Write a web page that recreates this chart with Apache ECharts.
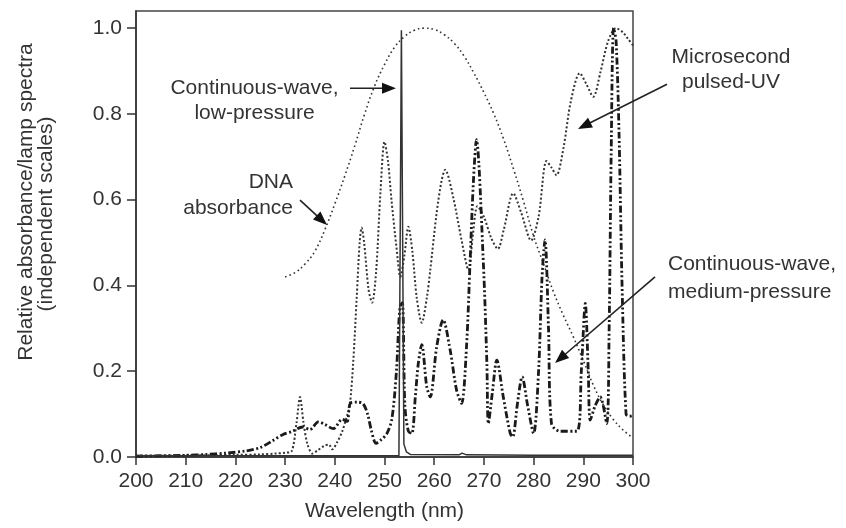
<!DOCTYPE html>
<html><head><meta charset="utf-8">
<script src="https://cdn.jsdelivr.net/npm/echarts@6/dist/echarts.min.js"></script>
<style>html,body{margin:0;padding:0;background:#fff}#c{width:846px;height:528px}</style>
</head><body><div id="c"></div>
<script>
// ---- data (wavelength nm, relative value) ----
const xTicks = [200,210,220,230,240,250,260,270,280,290,300];
const yTicks = [0,0.2,0.4,0.6,0.8,1.0];

const dnaAbsorbance = [
 [230,0.42],[232,0.43],[234,0.45],[236,0.48],[238,0.53],[240,0.59],[242,0.655],[244,0.725],
 [246,0.80],[248,0.865],[250,0.915],[252,0.955],[254,0.98],[256,0.995],[258,1.0],[260,0.997],
 [262,0.985],[264,0.965],[266,0.935],[268,0.895],[270,0.85],[272,0.80],[274,0.74],[276,0.67],
 [278,0.595],[280,0.515],[282,0.45],[284,0.385],[286,0.33],[288,0.28],[290,0.225],[292,0.168],
 [294,0.122],[296,0.088],[298,0.063],[300,0.044]
];

const pulsedUV = [
 [200,0.003],[205,0.003],[210,0.004],[215,0.004],[220,0.005],[225,0.006],[228,0.008],[230,0.01],
 [231.3,0.013],[232.3,0.08],[233,0.14],[233.7,0.08],[234.5,0.03],[235.5,0.008],[236.5,0.015],
 [238,0.027],[238.8,0.029],[239.5,0.018],[240.5,0.035],[241.5,0.06],[242.3,0.09],[243,0.12],
 [243.7,0.22],[244.4,0.37],[245,0.5],[245.4,0.535],[245.9,0.5],[246.8,0.39],[247.5,0.36],
 [248.3,0.43],[249.2,0.62],[250,0.735],[250.7,0.69],[251.4,0.6],[252.4,0.49],[253.2,0.42],
 [254,0.47],[254.8,0.537],[255.6,0.48],[256.5,0.37],[257.5,0.313],[258.5,0.37],[259.2,0.435],
 [260.5,0.57],[261.5,0.645],[262.2,0.67],[263.8,0.607],[265.5,0.506],[266.9,0.436],[267.8,0.52],
 [268.7,0.585],[270,0.56],[271.5,0.51],[272.8,0.485],[274,0.53],[275.9,0.615],[277.5,0.57],
 [279.5,0.505],[281,0.56],[282.6,0.69],[283.6,0.675],[284.6,0.657],[286,0.72],[287.5,0.83],
 [289.3,0.895],[290.6,0.87],[292,0.84],[293.5,0.9],[295,0.97],[296.6,1.0],[298,0.99],
 [299,0.975],[300,0.96]
];

const mediumPressure = [
 [200,0.002],[205,0.003],[210,0.004],[214,0.006],[218,0.009],[222,0.014],[225,0.022],[227.5,0.038],
 [229.5,0.052],[231.5,0.06],[233.5,0.07],[235,0.064],[236.7,0.082],[238,0.076],[239.7,0.066],
 [241.5,0.088],[242.5,0.083],[243.1,0.125],[244.5,0.128],[245.7,0.124],[246.6,0.1],[247.4,0.06],
 [248.3,0.032],[249.3,0.04],[250.5,0.055],[251.5,0.09],[252.4,0.2],[253.1,0.35],[253.6,0.36],
 [254.1,0.12],[254.8,0.06],[255.5,0.055],[256.2,0.14],[256.8,0.218],[257.5,0.262],[258.5,0.164],
 [259.2,0.14],[260.5,0.257],[261.8,0.32],[263.2,0.25],[264.5,0.156],[265.5,0.125],[266.5,0.257],
 [267.2,0.45],[267.9,0.645],[268.5,0.74],[269.9,0.45],[270.6,0.218],[270.9,0.078],[271.7,0.15],
 [272.6,0.226],[273.9,0.14],[275.3,0.055],[275.8,0.047],[276.7,0.12],[277.7,0.187],[278.8,0.12],
 [280,0.055],[281,0.2],[281.7,0.42],[282.3,0.506],[283,0.3],[283.6,0.078],[285.3,0.06],
 [288.7,0.06],[289.6,0.2],[290.4,0.358],[291,0.2],[291.4,0.086],[292.4,0.12],[293.4,0.14],
 [294.7,0.078],[295.2,0.3],[295.6,0.7],[296.1,1.0],[296.6,0.97],[297.2,0.75],[297.8,0.4],
 [298.6,0.1],[299.3,0.095],[300,0.097]
];

const lowPressure = [
 [200,0.003],[220,0.003],[240,0.003],[252.9,0.003],[253.4,0.995],[253.9,0.03],[254.4,0.012],
 [255.2,0.006],[265,0.005],[265.6,0.009],[266.5,0.005],[280,0.004],[300,0.004]
];

// annotation anchors in data coordinates
const annotations = [
 {text:'Continuous-wave,\nlow-pressure', at:[223.84,0.831], align:'center', lh:25},
 {text:'DNA\nabsorbance', at:[231.59,0.611], align:'right', lh:26},
 {text:'Microsecond\npulsed-UV', at:[319.72,0.903], align:'center', lh:25},
 {text:'Continuous-wave,\nmedium-pressure', at:[307.04,0.418], align:'left', lh:28}
];
const arrows = [
 {from:[243.06,0.860], to:[252.31,0.860]},
 {from:[233.0,0.599], to:[238.43,0.541]},
 {from:[306.84,0.869], to:[288.93,0.765]},
 {from:[304.43,0.420], to:[284.31,0.219]}
];

const FONT = '"Liberation Sans", Arial, Helvetica, sans-serif';
const TXT = '#333';
const chart = echarts.init(document.getElementById('c'));

chart.setOption({
  animation:false,
  backgroundColor:'#fff',
  grid:{left:136,right:213,top:11,bottom:71,show:true,borderColor:'#444',borderWidth:1.5,backgroundColor:'transparent'},
  xAxis:{
    type:'value',min:200,max:300,interval:10,
    axisLine:{lineStyle:{color:'#333',width:1.5}},
    axisTick:{show:true,length:8,lineStyle:{color:'#333',width:1.5},customValues:xTicks},
    axisLabel:{fontSize:21,color:TXT,fontFamily:FONT,margin:14,customValues:xTicks},
    splitLine:{show:false},
    name:'Wavelength (nm)',nameLocation:'middle',nameGap:44,
    nameTextStyle:{fontSize:21,color:TXT,fontFamily:FONT}
  },
  yAxis:{
    type:'value',min:0,max:1.04,interval:0.2,
    axisLine:{show:true,lineStyle:{color:'#333',width:1.5}},
    axisTick:{show:true,length:9,lineStyle:{color:'#333',width:1.5},customValues:yTicks},
    axisLabel:{fontSize:21,color:TXT,fontFamily:FONT,margin:14,customValues:yTicks,
      formatter:v=>v.toFixed(1)},
    splitLine:{show:false}
  },
  series:[
    {name:'DNA absorbance',type:'line',data:dnaAbsorbance,showSymbol:false,smooth:0.4,
     lineStyle:{color:'#333',width:1.6,type:[1.6,3]}},
    {name:'Microsecond pulsed-UV',type:'line',data:pulsedUV,showSymbol:false,smooth:0.3,
     lineStyle:{color:'#333',width:2,type:[2,2.2]}},
    {name:'Continuous-wave, medium-pressure',type:'line',data:mediumPressure,showSymbol:false,smooth:0.3,
     lineStyle:{color:'#1a1a1a',width:2.8,type:[7,2.5,2,2.5,2,2.5]}},
    {name:'Continuous-wave, low-pressure',type:'line',data:lowPressure,showSymbol:false,
     lineStyle:{color:'#333',width:1.5}}
  ]
});

function px(p){ return chart.convertToPixel({gridIndex:0}, p); }
const g = [];
annotations.forEach(a=>{
  const p = px(a.at);
  g.push({type:'text',x:p[0],y:p[1],z:10,style:{text:a.text,fill:TXT,font:'21px '+FONT,
    align:a.align,verticalAlign:'middle',lineHeight:a.lh}});
});
arrows.forEach(a=>{
  const s = px(a.from), t = px(a.to);
  const dx=t[0]-s[0], dy=t[1]-s[1], L=Math.hypot(dx,dy), ux=dx/L, uy=dy/L;
  const hl=14, hw=5.5;
  const bx=t[0]-ux*hl, by=t[1]-uy*hl;
  g.push({type:'line',z:10,shape:{x1:s[0],y1:s[1],x2:bx+ux*2,y2:by+uy*2},style:{stroke:'#222',lineWidth:1.6}});
  g.push({type:'polygon',z:10,shape:{points:[[t[0],t[1]],[bx-uy*hw,by+ux*hw],[bx+uy*hw,by-ux*hw]]},style:{fill:'#111'}});
});
g.push({type:'text',x:26,y:202,rotation:Math.PI/2,z:10,style:{text:'Relative absorbance/lamp spectra',fill:TXT,font:'21px '+FONT,align:'center',verticalAlign:'middle'}});
g.push({type:'text',x:46,y:214,rotation:Math.PI/2,z:10,style:{text:'(independent scales)',fill:TXT,font:'21px '+FONT,align:'center',verticalAlign:'middle'}});
chart.setOption({graphic:g});
</script></body></html>
